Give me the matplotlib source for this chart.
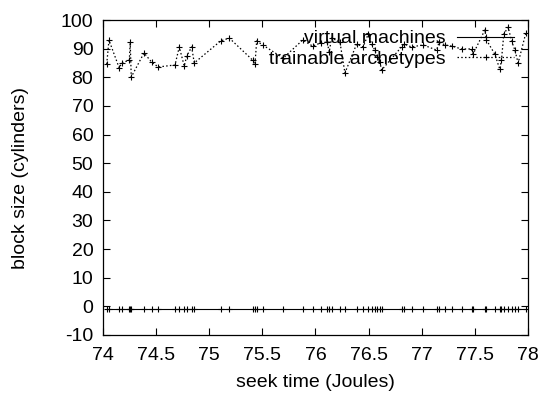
import numpy as np
import matplotlib
matplotlib.use("Agg")
import matplotlib.pyplot as plt

# shared seek times (Joules)
seek_time = [
    74.035, 74.056, 74.153, 74.176, 74.248, 74.256, 74.266, 74.386, 74.458, 74.520,
    74.678, 74.718, 74.765, 74.788, 74.835, 74.859, 75.108, 75.189, 75.409, 75.431,
    75.447, 75.503, 75.697, 75.880, 75.974, 76.049, 76.111, 76.130, 76.152, 76.231,
    76.278, 76.388, 76.450, 76.497, 76.529, 76.560, 76.582, 76.607, 76.623, 76.811,
    76.833, 76.905, 77.015, 77.141, 77.165, 77.219, 77.282, 77.376, 77.470, 77.485,
    77.595, 77.611, 77.689, 77.736, 77.752, 77.774, 77.815, 77.847, 77.878, 77.909,
    77.981,
]

# block size (cylinders)
trainable = [
    84.6, 93.0, 83.2, 85.0, 86.0, 92.3, 80.1, 88.5, 85.3, 83.6,
    84.3, 90.6, 83.9, 87.4, 90.6, 85.0, 92.7, 93.7, 86.0, 84.6,
    92.7, 91.3, 86.7, 93.0, 90.9, 92.0, 92.3, 88.8, 93.7, 92.3,
    81.5, 91.6, 90.6, 95.1, 91.6, 89.5, 87.1, 85.3, 82.5, 90.6,
    91.6, 90.6, 91.3, 89.5, 92.3, 91.3, 90.9, 89.9, 89.9, 88.1,
    96.5, 93.0, 88.1, 82.8, 86.0, 95.1, 97.5, 92.7, 89.5, 85.0,
    95.4,
]
virtual = [-1.0] * len(seek_time)

plt.rcParams['font.family'] = ['Liberation Sans', 'DejaVu Sans']
plt.rcParams['font.size'] = 14
plt.rcParams['axes.unicode_minus'] = False

fig = plt.figure(figsize=(5.55, 3.98), dpi=100)
ax = fig.add_axes([0.1856, 0.1583, 0.7654, 0.7914])

ax.plot(seek_time, virtual, '-', color='black', lw=0.8,
        marker='+', ms=5, mew=0.8, label='virtual machines')
ax.plot(seek_time, trainable, linestyle=(0, (1.2, 1.8)), color='black', lw=0.9,
        marker='+', ms=5, mew=0.8, label='trainable archetypes')

ax.set_xlim(74, 78)
ax.set_ylim(-10, 100)
ax.set_xticks(np.arange(74, 78.01, 0.5))
ax.set_xticklabels(['74', '74.5', '75', '75.5', '76', '76.5', '77', '77.5', '78'])
ax.set_yticks(np.arange(-10, 101, 10))
ax.tick_params(direction='in', top=True, right=True, length=5, width=0.8)
ax.tick_params(axis='x', pad=9)
ax.tick_params(axis='y', pad=7)
for s in ax.spines.values():
    s.set_linewidth(0.9)

ax.set_xlabel('seek time (Joules)', labelpad=7)
ax.set_ylabel('block size (cylinders)', labelpad=23)

ax.legend(loc='upper right', bbox_to_anchor=(0.99, 1.0), frameon=False,
          markerfirst=False, handlelength=2.9, handletextpad=0.6,
          labelspacing=0.15, borderaxespad=0.2, borderpad=0.3, fontsize=14)

fig.savefig('out.png', dpi=100)
